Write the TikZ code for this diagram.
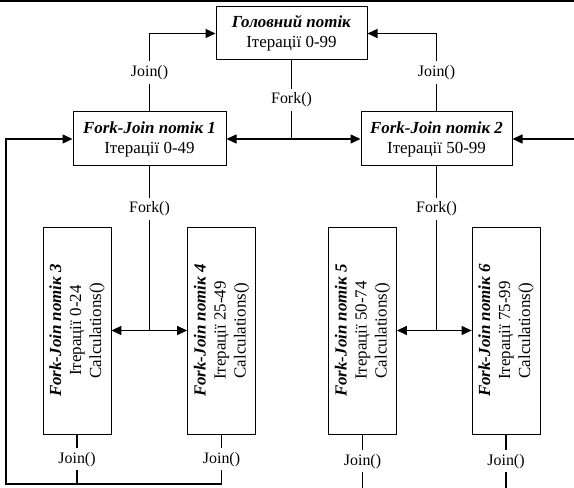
\documentclass[tikz,border=0pt]{standalone}
\usepackage{fontspec}
\setmainfont{Liberation Serif}
\usetikzlibrary{arrows.meta}

\begin{document}
\begin{tikzpicture}[x=1bp, y=-1bp,
    every node/.style={font=\fontsize{16}{19}\selectfont},
    box/.style={draw, line width=1bp, align=center, inner sep=2bp, font=\fontsize{17}{20}\selectfont},
    vbox/.style={draw, line width=0.8bp, align=center, rotate=90, minimum width=207bp, minimum height=68bp, inner sep=2bp, font=\fontsize{17}{20}\selectfont},
    lbl/.style={fill=white, inner sep=4bp},
    conn/.style={line width=1.4bp},
    arr/.style={conn, -{Triangle[length=10bp, width=9bp]}}]
    \useasboundingbox (0,0) rectangle (574,488);
    \fill (0,0) rectangle (574,2.5);

    \node[box, minimum width=151bp, minimum height=53bp] (main) at (291.5,33.5) {\textbf{\textit{Головний потік}}\\Ітерації 0-99};
    \node[box, minimum width=153bp, minimum height=54bp] (fj1) at (149.5,139) {\textbf{\textit{Fork-Join потік 1}}\\Ітерації 0-49};
    \node[box, minimum width=151bp, minimum height=54bp] (fj2) at (436.5,139) {\textbf{\textit{Fork-Join потік 2}}\\Ітерації 50-99};

    \node[vbox] (fj3) at (77,330.5) {\textbf{\textit{Fork-Join потік 3}}\\Ітерації 0-24\\Calculations()};
    \node[vbox] (fj4) at (221.5,330.5) {\textbf{\textit{Fork-Join потік 4}}\\Ітерації 25-49\\Calculations()};
    \node[vbox] (fj5) at (362.5,330.5) {\textbf{\textit{Fork-Join потік 5}}\\Ітерації 50-74\\Calculations()};
    \node[vbox] (fj6) at (506,330.5) {\textbf{\textit{Fork-Join потік 6}}\\Ітерації 75-99\\Calculations()};

    \coordinate (f0) at (main.south |- fj1.east);
    \coordinate (f1) at (fj1.south |- fj3.center);
    \coordinate (f2) at (fj2.south |- fj5.center);
    \coordinate (b0) at (6,484);
    \coordinate (b1) at (574,488);
    \coordinate (r0) at (574,139);

    % main thread
    \draw[conn] (main.south) -- node[lbl] {Fork()} (f0);
    \draw[arr] (f0) -- (fj1.east);
    \draw[arr] (f0) -- (fj2.west);
    \draw[arr] (fj1.north) -- node[lbl] {Join()} (fj1.north |- main.west) -- (main.west);
    \draw[arr] (fj2.north) -- node[lbl] {Join()} (fj2.north |- main.east) -- (main.east);
    \draw[arr] (r0) -- (fj2.east);

    % lower threads
    \draw[conn] (fj1.south) -- node[lbl, pos=0.26] {Fork()} (f1);
    \draw[arr] (f1) -- (fj3.south);
    \draw[arr] (f1) -- (fj4.north);
    \draw[conn] (fj2.south) -- node[lbl, pos=0.26] {Fork()} (f2);
    \draw[arr] (f2) -- (fj5.south);
    \draw[arr] (f2) -- (fj6.north);

    \draw[conn] (fj3.west) -- node[lbl] {Join()} (fj3.west |- b0);
    \draw[arr] (fj4.west) -- node[lbl] {Join()} (fj4.west |- b0) -- (b0) |- (fj1.west);
    \draw[conn] (fj5.west) -- node[lbl] {Join()} (fj5.west |- b1);
    \draw[conn] (fj6.west) -- node[lbl] {Join()} (fj6.west |- b1);
\end{tikzpicture}
\end{document}
